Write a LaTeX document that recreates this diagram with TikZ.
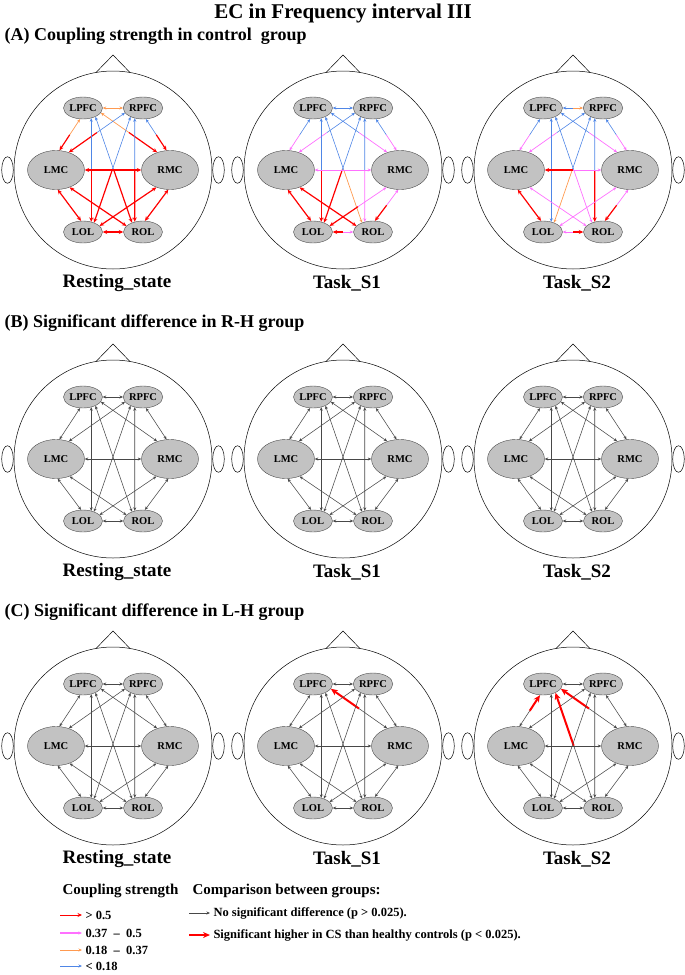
\documentclass[tikz,border=0pt]{standalone}
\usepackage{fontspec}
\setmainfont{Liberation Serif}
\usetikzlibrary{arrows.meta,calc,shapes.geometric}

\definecolor{ecred}{HTML}{FF0000}
\definecolor{ecpink}{HTML}{FF70FF}
\definecolor{ecorange}{HTML}{FF9A50}
\definecolor{ecblue}{HTML}{4F86E6}
\definecolor{ecgray}{HTML}{484848}

\tikzset{
  region/.style={ellipse,draw=gray!60!black,fill=gray!48,line width=0.4pt,inner sep=0pt,
    minimum width=39pt,minimum height=22pt,font=\fontsize{10.5}{10.5}\selectfont\bfseries},
  bigregion/.style={region,minimum width=57pt,minimum height=39pt},
  hi/.style={-{Stealth[length=4.5pt,width=4pt]},ecred,line width=1.2pt},
  mid/.style={-{Stealth[length=3.5pt,width=3pt]},ecpink,line width=0.7pt},
  lo/.style={-{Stealth[length=3.5pt,width=3pt]},ecorange,line width=0.7pt},
  weak/.style={-{Stealth[length=3.5pt,width=3pt]},ecblue,line width=0.6pt},
  ns/.style={-{Stealth[length=3.5pt,width=3pt]},ecgray,line width=0.55pt},
  sig/.style={-{Stealth[length=7pt,width=6pt]},ecred,line width=2pt},
  panel/.style={anchor=west,font=\fontsize{18}{18}\selectfont\bfseries},
  headname/.style={font=\fontsize{19}{19}\selectfont\bfseries},
  keyhead/.style={anchor=west,font=\fontsize{15}{15}\selectfont\bfseries},
  keytext/.style={anchor=west,font=\fontsize{12.5}{12.5}\selectfont\bfseries}
}

% one head with its six regions
\newcommand{\brainhead}[4]{%
  \begin{scope}[shift={(#2,#3)}]
    \draw[line width=0.5pt] (0,0) circle (99pt);
    \draw[line width=0.5pt] (-17,97.5) -- (0,115) -- (17,97.5);
    \draw[line width=0.5pt] (-105.5,0) ellipse (5.8pt and 13.3pt);
    \draw[line width=0.5pt] (105.5,0) ellipse (5.8pt and 13.3pt);
    \node[region] (#1LPFC) at (-30,62) {LPFC};
    \node[region] (#1RPFC) at (30,62) {RPFC};
    \node[bigregion] (#1LMC) at (-57,0) {LMC};
    \node[bigregion] (#1RMC) at (57,0) {RMC};
    \node[region] (#1LOL) at (-30,-62) {LOL};
    \node[region] (#1ROL) at (30,-62) {ROL};
    \node[headname] (#1name) at (4,-113) {#4};
  \end{scope}}

% node / border angle pairs of the 15 connections
\newcommand{\edgelist}{LPFC/0/RPFC/180,LPFC/-105/LMC/80,RPFC/-75/RMC/100,LPFC/-15/RMC/126,
  RPFC/-165/LMC/54,LPFC/-51/LOL/51,RPFC/-129/ROL/129,LPFC/-35/ROL/140,RPFC/-145/LOL/40,
  LMC/0/RMC/180,LMC/-85/LOL/100,RMC/-95/ROL/80,LMC/-52/ROL/160,RMC/-128/LOL/20,LOL/0/ROL/180}

% each connection as two halves, one style per end
\newcommand{\wiring}[3]{%
  \foreach \na/\aa/\nb/\ab [count=\i from 0] in \edgelist {
    \pgfmathsetmacro\ca{#2[\i]}
    \pgfmathsetmacro\cb{#3[\i]}
    \coordinate (m) at ($(#1\na.\aa)!0.5!(#1\nb.\ab)$);
    \draw[\ca] (m) -- (#1\na.\aa);
    \draw[\cb] (m) -- (#1\nb.\ab);
  }}

\def\nsall{{"ns","ns","ns","ns","ns","ns","ns","ns","ns","ns","ns","ns","ns","ns","ns"}}

\begin{document}
\begin{tikzpicture}[x=1pt,y=1pt]
\useasboundingbox (0,0) rectangle (685,-975);

\node[font=\fontsize{21}{21}\selectfont\bfseries] (title) at (343,-13) {EC in Frequency interval III};
\node[panel] (pA) at (1,-36) {(A) Coupling strength in control\ \ group};
\node[panel] (pB) at (1,-323) {(B) Significant difference in R-H group};
\node[panel] (pC) at (1,-612) {(C) Significant difference in L-H group};

% (A)
\brainhead{a1}{113}{-170}{Resting\_state}
\brainhead{a2}{343}{-170}{Task\_S1}
\brainhead{a3}{573}{-170}{Task\_S2}
\wiring{a1}{{"lo","lo","weak","lo","weak","weak","weak","weak","weak","hi","hi","hi","hi","hi","hi"}}
  {{"lo","hi","hi","hi","hi","hi","hi","hi","hi","hi","hi","hi","hi","hi","hi"}}
\wiring{a2}{{"weak","weak","weak","weak","weak","weak","weak","weak","weak","mid","hi","mid","hi","mid","hi"}}
  {{"weak","mid","mid","mid","mid","hi","mid","lo","hi","mid","hi","hi","hi","hi","mid"}}
\wiring{a3}{{"weak","weak","weak","weak","weak","weak","weak","weak","weak","hi","hi","mid","mid","mid","mid"}}
  {{"lo","mid","mid","mid","mid","weak","hi","mid","lo","mid","hi","hi","mid","mid","hi"}}

% (B)
\brainhead{b1}{113}{-459}{Resting\_state}
\brainhead{b2}{343}{-459}{Task\_S1}
\brainhead{b3}{573}{-459}{Task\_S2}
\wiring{b1}{\nsall}{\nsall}
\wiring{b2}{\nsall}{\nsall}
\wiring{b3}{\nsall}{\nsall}

% (C)
\brainhead{c1}{113}{-746}{Resting\_state}
\brainhead{c2}{343}{-746}{Task\_S1}
\brainhead{c3}{573}{-746}{Task\_S2}
\wiring{c1}{\nsall}{\nsall}
\wiring{c2}{{"ns","ns","ns","sig","ns","ns","ns","ns","ns","ns","ns","ns","ns","ns","ns"}}{\nsall}
\wiring{c3}{{"ns","sig","ns","sig","ns","ns","ns","sig","ns","ns","ns","ns","ns","ns","ns"}}{\nsall}

% legend
\node[keyhead] (kcs) at (59,-891) {Coupling strength};
\node[keytext] (k1) at (82,-915) {> 0.5};
\node[keytext] (k2) at (82,-933) {0.37 \ -- \ 0.5};
\node[keytext] (k3) at (82,-950) {0.18 \ -- \ 0.37};
\node[keytext] (k4) at (82,-966) {< 0.18};
\coordinate (k1s) at (60,-915);
\coordinate (k2s) at (60,-933);
\coordinate (k3s) at (60,-950);
\coordinate (k4s) at (60,-966);
\draw[hi,line width=0.9pt] (k1s) -- (k1.west);
\draw[mid,line width=1.4pt] (k2s) -- (k2.west);
\draw[lo] (k3s) -- (k3.west);
\draw[weak] (k4s) -- (k4.west);

\node[keyhead] (kcg) at (189,-891) {Comparison between groups:};
\node[keytext] (g1) at (210,-913) {No significant difference (p > 0.025).};
\node[keytext] (g2) at (210,-935) {Significant higher in CS than healthy controls (p < 0.025).};
\coordinate (g1s) at (189,-913);
\coordinate (g2s) at (189,-935);
\draw[ns,line width=0.8pt] (g1s) -- (g1.west);
\draw[sig,line width=1.6pt] (g2s) -- (g2.west);
\end{tikzpicture}
\end{document}
